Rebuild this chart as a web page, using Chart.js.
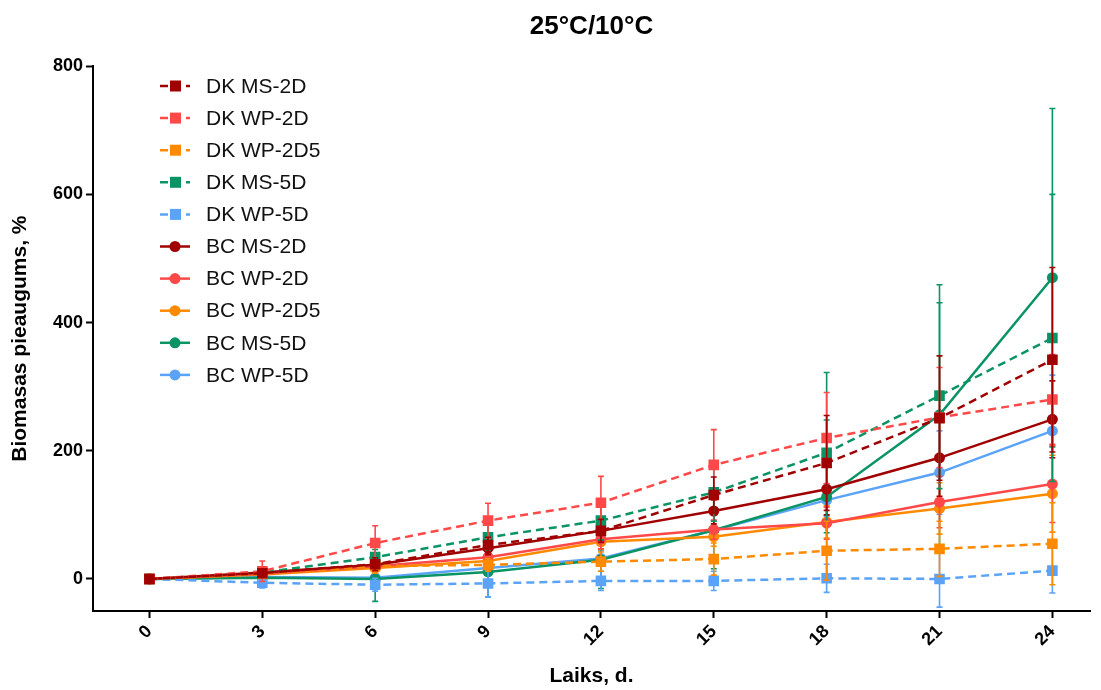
<!DOCTYPE html>
<html>
<head>
<meta charset="utf-8">
<script src="https://cdn.jsdelivr.net/npm/chart.js@4.4.0/dist/chart.umd.min.js"></script>
<style>
  html, body { margin: 0; padding: 0; background: #fff; }
  #wrap { width: 1101px; height: 690px; }
</style>
</head>
<body>
<div id="wrap"><canvas id="biomassChart"></canvas></div>
<script>
// x axis: days
const days = [0, 3, 6, 9, 12, 15, 18, 21, 24];
const xTicks = [0, 3, 6, 9, 12, 15, 18, 21, 24];
const yTicks = [0, 200, 400, 600, 800];

// DK series (dashed, squares)
const dkMs2d = [0, 9, 23, 53, 75, 131, 181, 251, 342];
const dkMs2dErr = [0, 6, 10, 12, 18, 28, 74, 97, 144];
const dkWp2d = [0, 12, 56, 91, 119, 178, 220, 252, 280];
const dkWp2dErr = [0, 16, 27, 27, 41, 55, 71, 78, 70];
const dkWp2d5 = [0, 8, 20, 22, 27, 31, 44, 47, 55];
const dkWp2d5Err = [0, 5, 8, 10, 15, 25, 46, 43, 64];
const dkMs5d = [0, 10, 34, 65, 91, 135, 197, 286, 376];
const dkMs5dErr = [0, 6, 12, 20, 30, 45, 125, 145, 224];
const dkWp5d = [0, -6, -9, -7, -3, -3, 1, 0, 13];
const dkWp5dErr = [0, 8, 10, 21, 15, 15, 22, 44, 35];

// BC series (solid, circles)
const bcMs2d = [0, 10, 22, 48, 75, 106, 140, 189, 249];
const bcMs2dErr = [0, 5, 8, 10, 15, 20, 40, 60, 60];
const bcWp2d = [0, 8, 20, 34, 62, 77, 87, 120, 148];
const bcWp2dErr = [0, 5, 8, 10, 15, 15, 25, 40, 60];
const bcWp2d5 = [0, 7, 17, 28, 58, 66, 89, 110, 133];
const bcWp2d5Err = [0, 5, 8, 10, 12, 15, 25, 40, 60];
const bcMs5d = [0, 2, 0, 11, 30, 76, 128, 256, 470];
const bcMs5dErr = [0, 5, 35, 39, 45, 60, 120, 203, 264];
const bcWp5d = [0, 3, 2, 17, 32, 76, 123, 166, 231];
const bcWp5dErr = [0, 5, 8, 10, 12, 15, 25, 65, 87];

const darkRed = '#a00000';
const red = '#ff4848';
const orange = '#ff8a00';
const green = '#0b9463';
const blue = '#5ba3f7';

function makeSeries(label, values, errors, color, dashed) {
  return {
    label: label,
    data: days.map((d, i) => ({ x: d, y: values[i] })),
    errors: errors,
    borderColor: color,
    backgroundColor: color,
    borderWidth: 2.5,
    borderDash: dashed ? [8, 5] : [],
    pointStyle: dashed ? 'rect' : 'circle',
    pointRadius: dashed ? 7.5 : 5.5,
    pointBorderWidth: 0,
    fill: false,
    tension: 0
  };
}

const datasets = [
  makeSeries('DK MS-2D', dkMs2d, dkMs2dErr, darkRed, true),
  makeSeries('DK WP-2D', dkWp2d, dkWp2dErr, red, true),
  makeSeries('DK WP-2D5', dkWp2d5, dkWp2d5Err, orange, true),
  makeSeries('DK MS-5D', dkMs5d, dkMs5dErr, green, true),
  makeSeries('DK WP-5D', dkWp5d, dkWp5dErr, blue, true),
  makeSeries('BC MS-2D', bcMs2d, bcMs2dErr, darkRed, false),
  makeSeries('BC WP-2D', bcWp2d, bcWp2dErr, red, false),
  makeSeries('BC WP-2D5', bcWp2d5, bcWp2d5Err, orange, false),
  makeSeries('BC MS-5D', bcMs5d, bcMs5dErr, green, false),
  makeSeries('BC WP-5D', bcWp5d, bcWp5dErr, blue, false)
];

// error bars, drawn under each dataset's line and markers
const errorBars = {
  id: 'errorBars',
  beforeDatasetDraw(chart, args) {
    const ds = chart.data.datasets[args.index];
    const yScale = chart.scales.y;
    const ctx = chart.ctx;
    ctx.save();
    ctx.strokeStyle = ds.borderColor;
    ctx.lineWidth = 1.6;
    ctx.setLineDash([]);
    ds.errors.forEach((e, i) => {
      if (!e) return;
      const px = args.meta.data[i].x;
      const v = ds.data[i].y;
      const top = yScale.getPixelForValue(v + e);
      const bot = yScale.getPixelForValue(v - e);
      ctx.beginPath();
      ctx.moveTo(px, top);
      ctx.lineTo(px, bot);
      ctx.moveTo(px - 3, top);
      ctx.lineTo(px + 3, top);
      ctx.moveTo(px - 3, bot);
      ctx.lineTo(px + 3, bot);
      ctx.stroke();
    });
    ctx.restore();
  }
};

// legend inside the plot, top left
const insideLegend = {
  id: 'insideLegend',
  afterDraw(chart) {
    const ctx = chart.ctx;
    const x0 = 160, y0 = 86, rowGap = 32.1;
    ctx.save();
    chart.data.datasets.forEach((ds, i) => {
      const y = y0 + i * rowGap;
      const dashed = ds.pointStyle === 'rect';
      ctx.strokeStyle = ds.borderColor;
      ctx.fillStyle = ds.borderColor;
      ctx.lineWidth = 2.5;
      ctx.setLineDash(dashed ? [8, 5] : []);
      ctx.beginPath();
      ctx.moveTo(x0, y);
      ctx.lineTo(x0 + 30, y);
      ctx.stroke();
      ctx.setLineDash([]);
      if (dashed) {
        ctx.fillRect(x0 + 10, y - 5.5, 11, 11);
      } else {
        ctx.beginPath();
        ctx.arc(x0 + 15, y, 5.5, 0, Math.PI * 2);
        ctx.fill();
      }
      ctx.fillStyle = '#111';
      ctx.font = '21px "Liberation Sans", Arial, sans-serif';
      ctx.textBaseline = 'middle';
      ctx.textAlign = 'left';
      ctx.fillText(ds.label, x0 + 46, y + 1);
    });
    ctx.restore();
  }
};

Chart.defaults.font.family = '"Liberation Sans", Arial, sans-serif';
Chart.defaults.color = '#000';

new Chart(document.getElementById('biomassChart'), {
  type: 'line',
  data: { datasets: datasets },
  plugins: [errorBars, insideLegend],
  options: {
    responsive: true,
    maintainAspectRatio: false,
    animation: false,
    layout: { padding: { left: 0, right: 11, top: 0, bottom: 0 } },
    plugins: {
      legend: { display: false },
      tooltip: { enabled: false },
      title: {
        display: true,
        text: '25°C/10°C',
        fullSize: false,
        color: '#000',
        font: { size: 26, weight: 'bold' },
        padding: { top: 11, bottom: 24 }
      }
    },
    scales: {
      x: {
        type: 'linear',
        min: -1.5,
        max: 25,
        afterBuildTicks: axis => { axis.ticks = xTicks.map(v => ({ value: v })); },
        afterFit: scale => { scale.height = 79; },
        ticks: {
          font: { size: 18, weight: 'bold' },
          color: '#000',
          maxRotation: 45,
          minRotation: 45,
          padding: 3
        },
        grid: {
          drawOnChartArea: false,
          drawTicks: true,
          tickLength: 7,
          tickWidth: 2,
          tickColor: '#000'
        },
        border: { display: true, color: '#000', width: 2 },
        title: {
          display: true,
          text: 'Laiks, d.',
          color: '#000',
          font: { size: 21, weight: 'bold' },
          padding: { top: 0, bottom: 1 }
        }
      },
      y: {
        min: -50,
        max: 800,
        afterBuildTicks: axis => { axis.ticks = yTicks.map(v => ({ value: v })); },
        afterFit: scale => { scale.width = 93; },
        ticks: {
          font: { size: 18, weight: 'bold' },
          color: '#000',
          padding: 3
        },
        grid: {
          drawOnChartArea: false,
          drawTicks: true,
          tickLength: 7,
          tickWidth: 2,
          tickColor: '#000'
        },
        border: { display: true, color: '#000', width: 2 },
        title: {
          display: true,
          text: 'Biomasas pieaugums, %',
          color: '#000',
          font: { size: 21, weight: 'bold' },
          padding: { top: 8, bottom: 0 }
        }
      }
    }
  }
});
</script>
</body>
</html>
